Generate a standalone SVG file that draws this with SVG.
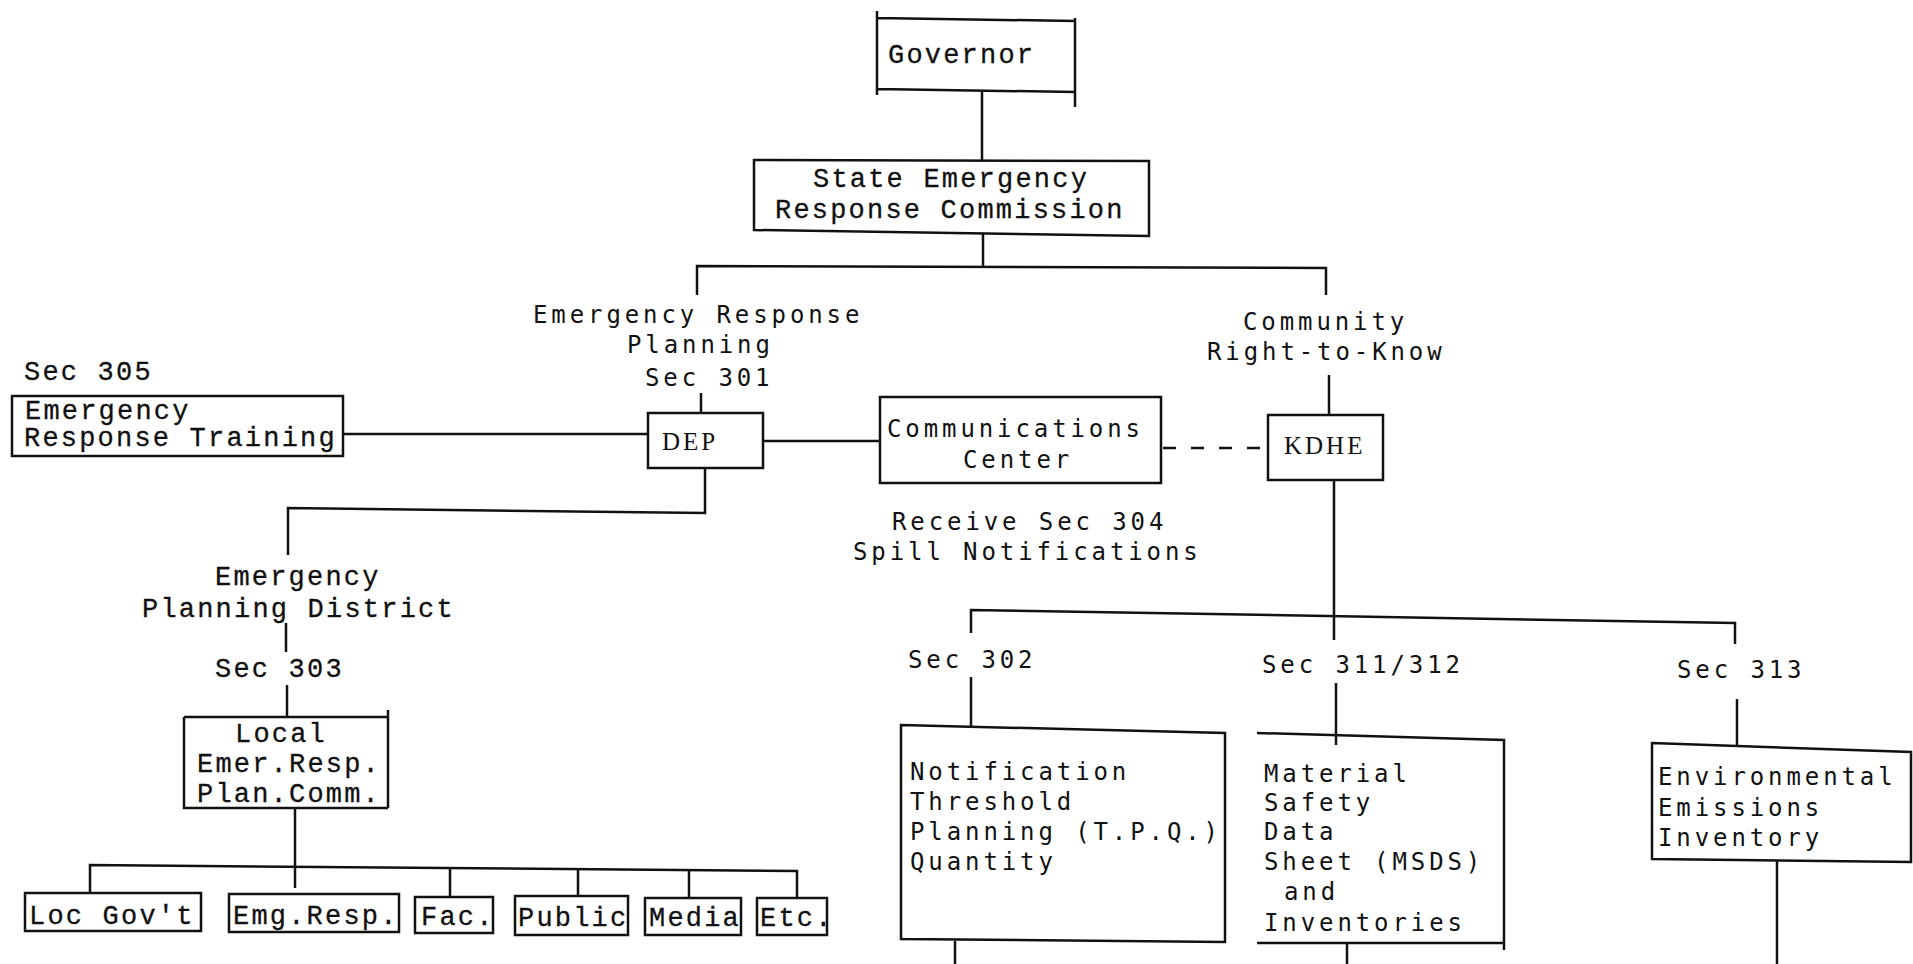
<svg xmlns="http://www.w3.org/2000/svg" width="1913" height="964" viewBox="0 0 1913 964">
<style>
.bg{fill:#fff}
.box{fill:none;stroke:#111;stroke-width:2.5;stroke-linejoin:miter}
.ln{fill:none;stroke:#111;stroke-width:2.5}
.dash{stroke-dasharray:13 15}
.t{font-family:"Liberation Mono","Courier New",monospace;font-size:27px;letter-spacing:2.2px;fill:#111;stroke:#111;stroke-width:0.3}
.n{font-family:"DejaVu Sans Mono","Liberation Mono",monospace;font-size:24px;letter-spacing:3.9px;fill:#111}
.s{font-family:"Liberation Serif","Times New Roman",serif;font-size:25px;letter-spacing:3px;fill:#111}
</style>
<rect class="bg" x="0" y="0" width="1913" height="964"/>
<g id="connectors">
<path class="ln" d="M982,92 V160"/>
<path class="ln" d="M983,233 V266"/>
<path class="ln" d="M697,295 V266 L1326,268 V295"/>
<path class="ln" d="M701,393 V413"/>
<path class="ln" d="M343,434 H648"/>
<path class="ln" d="M763,441 H880"/>
<path class="ln dash" d="M1163,448 H1268"/>
<path class="ln" d="M1329,375 V415"/>
<path class="ln" d="M1334,480 V640"/>
<path class="ln" d="M971,633 V610 L1735,623 V644"/>
<path class="ln" d="M971,677 V727"/>
<path class="ln" d="M1336,683 V745"/>
<path class="ln" d="M1737,699 V745"/>
<path class="ln" d="M955,941 V964"/>
<path class="ln" d="M1347,943 V964"/>
<path class="ln" d="M1777,861 V964"/>
<path class="ln" d="M705,468 V513 L288,508 V555"/>
<path class="ln" d="M286,623 V652"/>
<path class="ln" d="M287,685 V717"/>
<path class="ln" d="M295,808 V888"/>
<path class="ln" d="M90,893 V865 L797,871 V898"/>
<path class="ln" d="M450,867 V897"/>
<path class="ln" d="M578,869 V896"/>
<path class="ln" d="M689,869 V898"/>
</g>
<g id="governor">
<path class="box" d="M877,11 V95 M877,18 L1076,21 M1075,18 V107 M877,89 L1076,92"/>
<text class="t" x="888" y="63">Governor</text>
</g>
<g id="serc">
<path class="box" d="M754,160 L1149,161 L1149,236 L754,230 Z"/>
<text class="t" x="813" y="187">State Emergency</text>
<text class="t" x="775" y="218">Response Commission</text>
</g>
<g id="erp-label">
<text class="n" x="533" y="323">Emergency Response</text>
<text class="n" x="627" y="353">Planning</text>
<text class="n" x="645" y="386">Sec 301</text>
</g>
<g id="crtk-label">
<text class="n" x="1243" y="330">Community</text>
<text class="n" x="1207" y="360">Right-to-Know</text>
</g>
<g id="sec305">
<text class="t" x="24" y="380">Sec 305</text>
<rect class="box" x="12" y="396" width="331" height="60"/>
<text class="t" x="25" y="419">Emergency</text>
<text class="t" x="24" y="446">Response Training</text>
</g>
<g id="dep">
<rect class="box" x="648" y="413" width="115" height="55"/>
<text class="s" x="662" y="450">DEP</text>
</g>
<g id="comm">
<rect class="box" x="880" y="397" width="281" height="86"/>
<text class="n" x="887" y="437">Communications</text>
<text class="n" x="963" y="468">Center</text>
<text class="n" x="892" y="530">Receive Sec 304</text>
<text class="n" x="853" y="560">Spill Notifications</text>
</g>
<g id="kdhe">
<rect class="box" x="1268" y="415" width="115" height="65"/>
<text class="s" x="1284" y="454">KDHE</text>
</g>
<g id="epd">
<text class="t" x="215" y="585">Emergency</text>
<text class="t" x="142" y="617">Planning District</text>
<text class="t" x="215" y="677">Sec 303</text>
</g>
<g id="lerpc">
<path class="box" d="M184,717 H388 M388,710 V808 M184,717 V808 H388"/>
<text class="t" x="235" y="742">Local</text>
<text class="t" x="197" y="772">Emer.Resp.</text>
<text class="t" x="197" y="802">Plan.Comm.</text>
</g>
<g id="locgov">
<rect class="box" x="25" y="893" width="176" height="38"/>
<text class="t" x="29" y="924">Loc Gov't</text>
</g>
<g id="emgresp">
<rect class="box" x="229" y="894" width="170" height="38"/>
<text class="t" x="233" y="924">Emg.Resp.</text>
</g>
<g id="fac">
<rect class="box" x="415" y="897" width="78" height="36"/>
<text class="t" x="421" y="925">Fac.</text>
</g>
<g id="public">
<rect class="box" x="515" y="896" width="113" height="39"/>
<text class="t" x="518" y="926">Public</text>
</g>
<g id="media">
<rect class="box" x="645" y="898" width="96" height="37"/>
<text class="t" x="649" y="926">Media</text>
</g>
<g id="etc">
<rect class="box" x="757" y="898" width="70" height="37"/>
<text class="t" x="760" y="926">Etc.</text>
</g>
<g id="sec302">
<text class="n" x="908" y="668">Sec 302</text>
<path class="box" d="M901,725 L1225,733 L1225,942 L901,939 Z"/>
<text class="n" x="910" y="780">Notification</text>
<text class="n" x="910" y="810">Threshold</text>
<text class="n" x="910" y="840">Planning (T.P.Q.)</text>
<text class="n" x="910" y="870">Quantity</text>
</g>
<g id="sec311">
<text class="n" x="1262" y="673">Sec 311/312</text>
<path class="box" d="M1257,733 L1504,740 L1504,950 M1504,943 L1257,943 Z"/>
<text class="n" x="1264" y="782">Material</text>
<text class="n" x="1264" y="811">Safety</text>
<text class="n" x="1264" y="840">Data</text>
<text class="n" x="1264" y="870">Sheet (MSDS)</text>
<text class="n" x="1284" y="900">and</text>
<text class="n" x="1264" y="931">Inventories</text>
</g>
<g id="sec313">
<text class="n" x="1677" y="678">Sec 313</text>
<path class="box" d="M1652,743 L1911,752 L1911,862 L1652,859 Z"/>
<text class="n" x="1658" y="785">Environmental</text>
<text class="n" x="1658" y="816">Emissions</text>
<text class="n" x="1658" y="846">Inventory</text>
</g>
</svg>
